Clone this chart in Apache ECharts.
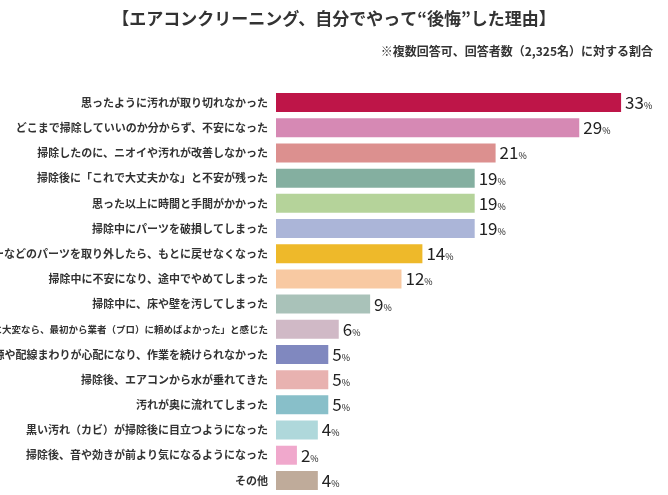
<!DOCTYPE html><html><head><meta charset="utf-8"><script src="https://cdn.jsdelivr.net/npm/echarts@6/dist/echarts.min.js"></script>
<style>body{margin:0;background:#fff}#c{width:668px;height:495px}</style></head><body><div id="c"></div><script>
const categories=["思ったように汚れが取り切れなかった","どこまで掃除していいのか分からず、不安になった","掃除したのに、ニオイや汚れが改善しなかった","掃除後に「これで大丈夫かな」と不安が残った","思った以上に時間と手間がかかった","掃除中にパーツを破損してしまった","カバーなどのパーツを取り外したら、もとに戻せなくなった","掃除中に不安になり、途中でやめてしまった","掃除中に、床や壁を汚してしまった","「こんなに大変なら、最初から業者（プロ）に頼めばよかった」と感じた","電源や配線まわりが心配になり、作業を続けられなかった","掃除後、エアコンから水が垂れてきた","汚れが奥に流れてしまった","黒い汚れ（カビ）が掃除後に目立つようになった","掃除後、音や効きが前より気になるようになった","その他"];
const values=[33,29,21,19,19,19,14,12,9,6,5,5,5,4,2,4];
const colors=["#BE1548","#D689B4","#DC908F","#84AFA0","#B5D39A","#ABB5D8","#EEB92A","#F8C9A2","#A9C2B9","#D0B9C6","#8088BF","#E8B2B0","#88BFC9","#AFD8DB","#F0A8CC","#BFAB9A"];
const F="Noto Sans CJK JP";
const ch=echarts.init(document.getElementById('c'));
ch.setOption({
title:[{text:"【エアコンクリーニング、自分でやって“後悔”した理由】",left:'center',top:5,textStyle:{fontFamily:F,fontSize:17,fontWeight:'bold',color:'#333'}},
{text:"※複数回答可、回答者数（2,325名）に対する割合",right:10,top:40,textStyle:{fontFamily:F,fontSize:12,fontWeight:'bold',color:'#333'}}],
grid:{left:276,right:26,top:90,bottom:2,containLabel:false,outerBoundsMode:'none'},
xAxis:{type:'value',min:0,max:35,show:false},
yAxis:{type:'category',inverse:true,data:categories,axisLine:{show:false},axisTick:{show:false},
axisLabel:{fontFamily:F,fontSize:11,fontWeight:'bold',color:'#333',margin:8,
formatter:(v,i)=>i===9?'{s|'+v+'}':v,rich:{s:{fontFamily:F,fontSize:9.5,fontWeight:'bold',color:'#333'}}}},
series:[{type:'bar',data:values.map((v,i)=>({value:v,itemStyle:{color:colors[i]}})),barWidth:19,
label:{show:true,position:'right',distance:4,formatter:p=>'{n|'+p.value+'}{p|%}',
rich:{n:{fontFamily:F,fontSize:17,color:'#222'},p:{fontFamily:F,fontSize:9,color:'#222',padding:[6,0,0,0]}}}}]
});
</script></body></html>
